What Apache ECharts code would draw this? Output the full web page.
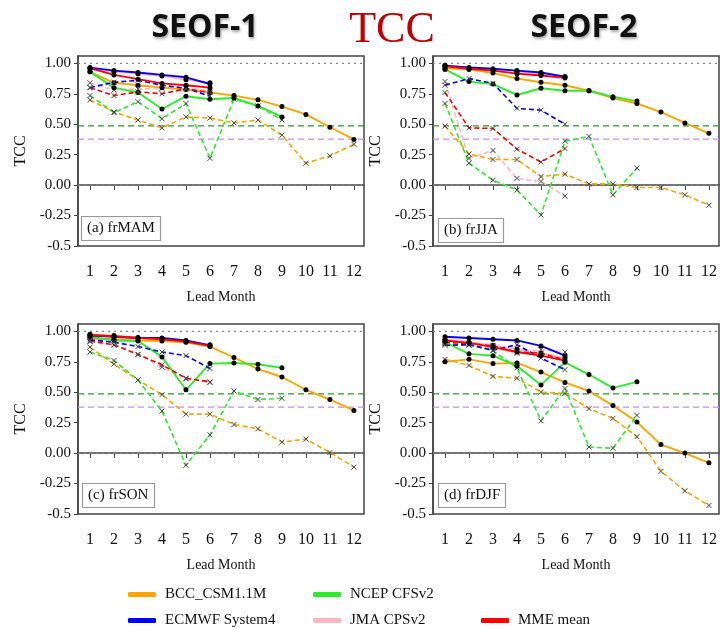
<!DOCTYPE html>
<html>
<head>
<meta charset="utf-8">
<script src="https://cdn.jsdelivr.net/npm/echarts@6/dist/echarts.min.js"></script>
<style>
  html, body { margin: 0; padding: 0; background: #fff; }
  #main { width: 720px; height: 628px; }
</style>
</head>
<body>
<div id="main"></div>
<script>
var chartDom = document.getElementById('main');
var myChart = echarts.init(chartDom);
var option;

// Lead months on x, TCC ticks on y
const leadMonths = [1, 2, 3, 4, 5, 6, 7, 8, 9, 10, 11, 12];
const yTicks = [-0.5, -0.25, 0, 0.25, 0.5, 0.75, 1];
const models = ['BCC_CSM1.1M', 'ECMWF System4', 'NCEP CFSv2', 'JMA CPSv2', 'MME mean'];
const modelColors = ['#ffa500', '#0000ff', '#2bee2b', '#ffb6c1', '#ff0000'];
const panelNames = ['(a) frMAM', '(b) frJJA', '(c) frSON', '(d) frDJF'];
// horizontal reference lines: dotted at 1 and 0, dashed significance levels
const refLevels = [1.0, 0.0, 0.486, 0.378];
const refColors = ['#888888', '#888888', '#2a9a2a', '#c88cf5'];

// Values per panel, rows in model order (BCC, ECMWF, NCEP, JMA, MME)
const mamSolid = [
  [0.93, 0.84, 0.82, 0.80, 0.785, 0.76, 0.735, 0.70, 0.645, 0.58, 0.475, 0.375],
  [0.965, 0.94, 0.925, 0.905, 0.885, 0.83],
  [0.93, 0.80, 0.76, 0.625, 0.73, 0.705, 0.715, 0.65, 0.56],
  [0.955, 0.93, 0.915, 0.895, 0.865, 0.84],
  [0.96, 0.905, 0.87, 0.835, 0.82, 0.80]
];
const mamDash = [
  [0.70, 0.60, 0.535, 0.47, 0.56, 0.55, 0.51, 0.535, 0.41, 0.18, 0.24, 0.335],
  [0.80, 0.845, 0.86, 0.82, 0.795, 0.73],
  [0.735, 0.595, 0.685, 0.545, 0.67, 0.22, 0.705, 0.65, 0.535],
  [0.84, 0.78, 0.79, 0.795, 0.80, 0.77],
  [0.80, 0.735, 0.765, 0.75, 0.79, 0.76]
];
const jjaSolid = [
  [0.96, 0.95, 0.92, 0.875, 0.845, 0.82, 0.775, 0.715, 0.67, 0.60, 0.51, 0.425],
  [0.98, 0.965, 0.955, 0.94, 0.925, 0.89],
  [0.95, 0.85, 0.83, 0.74, 0.795, 0.775, 0.775, 0.725, 0.69],
  [0.985, 0.96, 0.95, 0.93, 0.91, 0.89],
  [0.975, 0.955, 0.94, 0.915, 0.90, 0.88]
];
const jjaDash = [
  [0.485, 0.255, 0.21, 0.21, 0.07, 0.09, 0.01, 0.01, -0.02, -0.02, -0.08, -0.165],
  [0.82, 0.875, 0.835, 0.63, 0.615, 0.50],
  [0.67, 0.18, 0.04, -0.04, -0.245, 0.36, 0.40, -0.08, 0.14],
  [0.85, 0.22, 0.285, 0.055, 0.03, -0.09],
  [0.76, 0.47, 0.465, 0.295, 0.19, 0.30]
];
const sonSolid = [
  [0.94, 0.935, 0.925, 0.92, 0.91, 0.875, 0.785, 0.69, 0.625, 0.52, 0.44, 0.35],
  [0.965, 0.955, 0.945, 0.945, 0.925, 0.885],
  [0.955, 0.925, 0.92, 0.79, 0.52, 0.735, 0.74, 0.73, 0.70],
  [0.975, 0.965, 0.95, 0.94, 0.92, 0.89],
  [0.97, 0.96, 0.945, 0.935, 0.915, 0.88]
];
const sonDash = [
  [0.87, 0.73, 0.60, 0.48, 0.32, 0.32, 0.235, 0.20, 0.09, 0.115, 0.005, -0.115],
  [0.93, 0.91, 0.875, 0.83, 0.80, 0.695],
  [0.83, 0.76, 0.60, 0.345, -0.10, 0.15, 0.51, 0.44, 0.45],
  [0.915, 0.885, 0.81, 0.705, 0.61, 0.58],
  [0.92, 0.89, 0.81, 0.725, 0.615, 0.585]
];
const djfSolid = [
  [0.75, 0.77, 0.735, 0.74, 0.665, 0.58, 0.51, 0.39, 0.255, 0.07, 0.0, -0.08],
  [0.955, 0.945, 0.935, 0.925, 0.88, 0.80],
  [0.91, 0.815, 0.80, 0.715, 0.56, 0.745, 0.645, 0.535, 0.585],
  [0.935, 0.91, 0.885, 0.855, 0.82, 0.78],
  [0.925, 0.905, 0.87, 0.83, 0.80, 0.76]
];
const djfDash = [
  [0.77, 0.72, 0.63, 0.615, 0.50, 0.49, 0.365, 0.285, 0.135, -0.15, -0.31, -0.43],
  [0.885, 0.89, 0.845, 0.89, 0.78, 0.685],
  [0.895, 0.89, 0.84, 0.70, 0.265, 0.53, 0.05, 0.04, 0.31],
  [0.90, 0.885, 0.87, 0.82, 0.85, 0.83],
  [0.91, 0.90, 0.88, 0.83, 0.82, 0.765]
];

const solidSets = [mamSolid, jjaSolid, sonSolid, djfSolid];
const dashSets = [mamDash, jjaDash, sonDash, djfDash];

// layout of the four boxes
const xRange = [0.5, 12.42];
const gridPos = [[78, 56], [433, 56], [78, 324], [433, 324]];
const labelPos = [[81, 216], [438, 218], [82, 483], [438, 483]];
// pink drawn first, MME on top
const drawOrder = [3, 0, 2, 1, 4];
const serif = '"Liberation Serif", "Times New Roman", serif';
const xMark = 'path://M0,0L10,10M10,0L0,10';

function toPairs(vals) {
  return vals.map(function (v, i) { return [leadMonths[i], v]; });
}

let grid = [], xAxis = [], yAxis = [], series = [], title = [];

panelNames.forEach(function (name, p) {
  grid.push({
    left: gridPos[p][0], top: gridPos[p][1], width: 286, height: 190,
    show: true, borderColor: '#444', borderWidth: 1.5
  });
  xAxis.push({
    gridIndex: p, type: 'value', min: xRange[0], max: xRange[1],
    axisLine: { lineStyle: { color: '#444', width: 1.5 } },
    axisTick: { customValues: leadMonths, length: 5, lineStyle: { color: '#444' } },
    axisLabel: { customValues: leadMonths, fontSize: 16, fontFamily: serif, color: '#111', margin: 18 },
    splitLine: { show: false },
    name: 'Lead Month', nameLocation: 'middle', nameGap: 44,
    nameTextStyle: { fontSize: 14, fontFamily: serif, color: '#111' }
  });
  yAxis.push({
    gridIndex: p, type: 'value', min: -0.5, max: 1.06,
    axisLine: { show: true, lineStyle: { color: '#444', width: 1.5 } },
    axisTick: { show: true, customValues: yTicks, length: 4, lineStyle: { color: '#444' } },
    axisLabel: {
      customValues: yTicks, fontSize: 15, fontFamily: serif, color: '#111', margin: 7,
      formatter: function (v) { return v === -0.5 ? '-0.5' : v.toFixed(2); }
    },
    splitLine: { show: false },
    name: 'TCC', nameLocation: 'middle', nameGap: 49,
    nameTextStyle: { fontSize: 16, fontFamily: serif, color: '#111' }
  });
  title.push({
    text: name, left: labelPos[p][0], top: labelPos[p][1],
    padding: [5, 6], borderColor: '#999', borderWidth: 1.2, backgroundColor: '#fff',
    textStyle: { fontSize: 15, fontFamily: serif, fontWeight: 'normal', color: '#111' }
  });

  // reference lines spanning the whole x range
  refLevels.forEach(function (level, r) {
    series.push({
      type: 'line', xAxisIndex: p, yAxisIndex: p, silent: true,
      data: [[xRange[0], level], [xRange[1], level]],
      symbol: 'none', color: refColors[r],
      lineStyle: { color: refColors[r], type: r < 2 ? [2, 4] : [6, 4], width: 1.3 }
    });
  });

  drawOrder.forEach(function (m) {
    series.push({
      name: models[m], type: 'line', xAxisIndex: p, yAxisIndex: p,
      data: toPairs(dashSets[p][m]),
      symbol: xMark, symbolSize: 5,
      itemStyle: { color: 'transparent', borderColor: '#444', borderWidth: 1 },
      lineStyle: { color: modelColors[m], width: 1.6, type: [5, 3] }
    });
    series.push({
      name: models[m], type: 'line', xAxisIndex: p, yAxisIndex: p,
      data: toPairs(solidSets[p][m]),
      symbol: 'circle', symbolSize: 5,
      itemStyle: { color: '#000' },
      lineStyle: { color: modelColors[m], width: 1.9 }
    });
  });
});

// one legend per entry so each sits where the reference puts it
const legendPos = [[128, 587], [128, 613], [313, 587], [313, 613], [481, 613]];
let legend = models.map(function (name, m) {
  return {
    left: legendPos[m][0], top: legendPos[m][1], padding: 0,
    icon: 'roundRect', itemWidth: 28, itemHeight: 5, selectedMode: false,
    textStyle: { fontSize: 15, fontFamily: serif, color: '#111', padding: [0, 0, 0, 4] },
    data: [{ name: name, itemStyle: { color: modelColors[m], borderWidth: 0 } }]
  };
});

option = {
  animation: false,
  backgroundColor: '#fff',
  title: title,
  legend: legend,
  grid: grid,
  xAxis: xAxis,
  yAxis: yAxis,
  series: series,
  graphic: [
    {
      type: 'text', x: 205, y: 28,
      style: {
        text: 'SEOF-1', fill: '#111', font: 'bold 32px "Open Sans", sans-serif',
        align: 'center', verticalAlign: 'middle',
        textShadowColor: 'rgba(0,0,0,0.35)', textShadowBlur: 3, textShadowOffsetX: 1, textShadowOffsetY: 2
      }
    },
    {
      type: 'text', x: 392, y: 30,
      style: {
        text: 'TCC', fill: '#c00000', font: '44px "Liberation Serif", serif',
        align: 'center', verticalAlign: 'middle'
      }
    },
    {
      type: 'text', x: 584, y: 28,
      style: {
        text: 'SEOF-2', fill: '#111', font: 'bold 32px "Open Sans", sans-serif',
        align: 'center', verticalAlign: 'middle',
        textShadowColor: 'rgba(0,0,0,0.35)', textShadowBlur: 3, textShadowOffsetX: 1, textShadowOffsetY: 2
      }
    }
  ]
};

option && myChart.setOption(option);
</script>
</body>
</html>
